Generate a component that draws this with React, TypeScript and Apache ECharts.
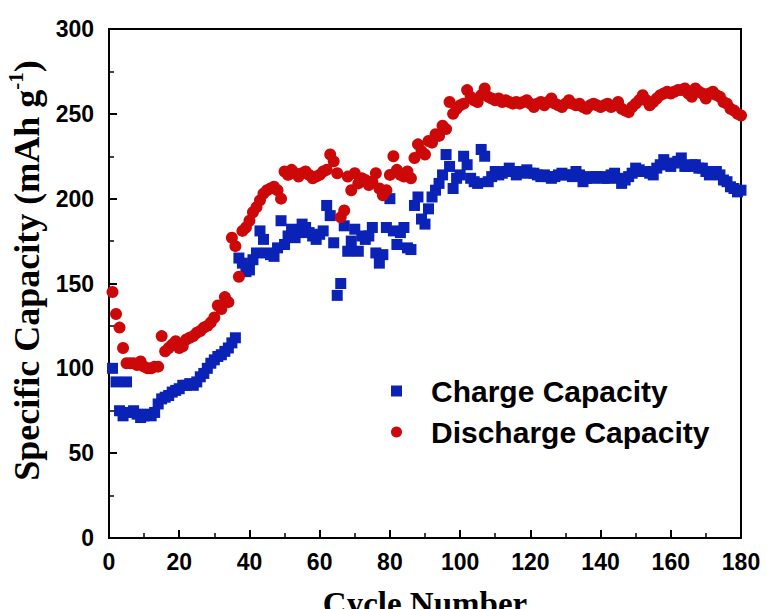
import React, { useEffect, useRef } from "react";
import * as echarts from "echarts";

// Specific capacity (mAh g^-1) per cycle, cycle n is at index n - 1
const chargeCapacity: number[] = [
  100, 92, 75, 72, 92, 74, 75, 73, 71, 72,
  73, 72, 74, 79, 82, 83, 84, 86, 87, 88,
  90, 90, 91, 90, 92, 95, 97, 100, 103, 105,
  107, 108, 110, 112, 115, 118, 165, 162, 157, 158,
  164, 168, 181, 176, 168, 167, 166, 171, 187, 173,
  178, 182, 177, 180, 185, 183, 180, 178, 176, 179,
  181, 196, 190, 174, 143, 150, 184, 169, 175, 182,
  169, 178, 176, 178, 183, 168, 162, 167, 183, 200,
  181, 173, 180, 183, 171, 170, 196, 201, 188, 185,
  194, 201, 205, 209, 214, 226, 219, 206, 212, 214,
  225, 220, 212, 210, 209, 229, 225, 210, 213, 216,
  214, 215, 216, 218, 216, 214, 215, 216, 217, 215,
  215, 214, 213, 214, 213, 212, 213, 214, 215, 214,
  214, 213, 216, 214, 210, 212, 213, 212, 213, 213,
  212, 212, 214, 215, 212, 209, 211, 213, 215, 218,
  217, 216, 216, 215, 214, 218, 220, 223, 220, 219,
  221, 222, 224, 219, 219, 220, 220, 218, 218, 216,
  214, 215, 216, 214, 211, 210, 207, 206, 204, 205,
];

const dischargeCapacity: number[] = [
  145, 132, 124, 112, 103, 103, 103, 102, 104, 101,
  100, 100, 101, 101, 119, 110, 112, 114, 116, 112,
  113, 117, 118, 119, 121, 122, 124, 125, 127, 130,
  137, 135, 142, 139, 177, 172, 154, 181, 183, 187,
  192, 195, 199, 203, 205, 206, 207, 205, 200, 216,
  214, 217, 215, 213, 215, 216, 214, 212, 213, 214,
  216, 217, 226, 222, 215, 189, 193, 213, 205, 215,
  209, 212, 211, 208, 210, 215, 206, 202, 205, 214,
  225, 217, 214, 213, 216, 212, 224, 232, 228, 226,
  234, 233, 238, 237, 243, 241, 257, 250, 253, 255,
  256, 264, 260, 258, 257, 261, 265, 260, 259, 258,
  259, 257, 258, 257, 256, 257, 256, 257, 258, 256,
  254, 256, 257, 255, 257, 259, 256, 255, 254, 256,
  258, 256, 255, 256, 254, 253, 255, 256, 255, 254,
  255, 256, 254, 255, 257, 253, 252, 251, 254, 256,
  258, 261, 258, 255, 257, 259, 261, 262, 263, 262,
  263, 264, 264, 265, 262, 260, 265, 263, 262, 259,
  262, 263, 261, 260, 257, 256, 253, 252, 250, 249,
];

const seriesNames = ["Charge Capacity", "Discharge Capacity"];

const toPoints = (values: number[]) => values.map((v, i) => [i + 1, v]);

export default function App() {
  const ref = useRef<HTMLDivElement>(null);

  useEffect(() => {
    if (!ref.current) return;
    const chart = echarts.init(ref.current, null, { renderer: "svg" });
    const sans = "'Liberation Sans', Arial, sans-serif";
    const serif = "'Liberation Serif', 'Times New Roman', serif";

    chart.setOption({
      animation: false,
      backgroundColor: "#ffffff",
      grid: {
        left: 109,
        top: 29,
        width: 632,
        height: 509,
        outerBoundsMode: "none",
        containLabel: false,
        show: true,
        borderColor: "#000",
        borderWidth: 2,
      },
      legend: {
        orient: "vertical",
        left: 386,
        top: 371,
        itemWidth: 11,
        itemHeight: 11,
        itemGap: 11,
        textStyle: {
          fontFamily: sans,
          fontWeight: "bold",
          fontSize: 30,
          color: "#000",
          padding: [0, 0, 0, 24],
        },
        data: seriesNames,
      },
      xAxis: {
        type: "value",
        min: 0,
        max: 180,
        interval: 20,
        name: "Cycle Number",
        nameLocation: "middle",
        nameGap: 48,
        nameMoveOverlap: false,
        nameTextStyle: {
          fontFamily: serif,
          fontWeight: "bold",
          fontSize: 33,
          lineHeight: 36,
          color: "#000",
        },
        axisLine: { lineStyle: { color: "#000", width: 2 } },
        axisTick: { inside: true, length: 8, lineStyle: { color: "#000", width: 2 } },
        minorTick: { show: true, splitNumber: 2, length: 5, lineStyle: { color: "#000", width: 1.5 } },
        axisLabel: {
          fontFamily: sans,
          fontWeight: "bold",
          fontSize: 23,
          color: "#000",
          margin: 12,
        },
        splitLine: { show: false },
      },
      yAxis: {
        type: "value",
        min: 0,
        max: 300,
        interval: 50,
        name: "{a|Specific Capacity (mAh g}{b|-1}{a|)}",
        nameLocation: "middle",
        nameGap: 56,
        nameRotate: 90,
        nameTextStyle: {
          padding: [0, 0, 0, 26],
          rich: {
            a: {
              fontFamily: serif,
              fontWeight: "bold",
              fontSize: 36,
              color: "#000",
              lineHeight: 42,
            },
            b: {
              fontFamily: serif,
              fontWeight: "bold",
              fontSize: 21,
              color: "#000",
              lineHeight: 21,
              verticalAlign: "top",
            },
          },
        },
        axisLine: { lineStyle: { color: "#000", width: 2 } },
        axisTick: { inside: true, length: 8, lineStyle: { color: "#000", width: 2 } },
        minorTick: { show: true, splitNumber: 2, length: 5, lineStyle: { color: "#000", width: 1.5 } },
        axisLabel: {
          fontFamily: sans,
          fontWeight: "bold",
          fontSize: 23,
          color: "#000",
          margin: 15,
        },
        splitLine: { show: false },
      },
      series: [
        {
          name: seriesNames[0],
          type: "scatter",
          symbol: "rect",
          symbolSize: 11,
          itemStyle: { color: "#0a22b6", opacity: 1 },
          data: toPoints(chargeCapacity),
        },
        {
          name: seriesNames[1],
          type: "scatter",
          symbol: "circle",
          symbolSize: 12,
          itemStyle: { color: "#cc0808", opacity: 1 },
          data: toPoints(dischargeCapacity),
        },
      ],
    });

    return () => chart.dispose();
  }, []);

  return (
    <div
      ref={ref}
      style={{ position: "fixed", left: 0, top: 0, width: 767, height: 609, background: "#fff" }}
    />
  );
}
